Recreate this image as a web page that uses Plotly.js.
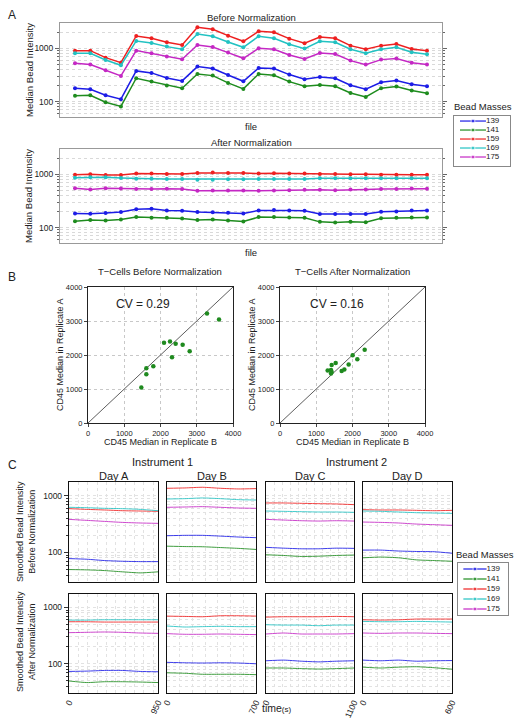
<!DOCTYPE html>
<html><head><meta charset="utf-8">
<script src="https://cdn.plot.ly/plotly-3.0.1.min.js"></script>
<style>html,body{margin:0;padding:0;background:#fff}#chart{width:522px;height:724px}</style>
</head><body><div id="chart"></div>
<script>
// ---------- data ----------
const beadMasses = ['139','141','159','169','175'];
const beadColors = ['#1c1ce6','#1e8c1e','#ee2020','#22c2c2','#c428c4'];
const files = [1,2,3,4,5,6,7,8,9,10,11,12,13,14,15,16,17,18,19,20,21,22,23,24];

// Panel A: before normalization
const before139 = [178,170,131,111,376,345,278,244,453,416,316,240,428,416,321,262,290,274,202,170,230,248,211,194];
const before141 = [128,131,97,81,274,237,200,178,330,307,224,173,330,312,237,194,205,194,145,122,178,191,161,143];
const before159 = [904,904,668,538,1703,1540,1296,1155,2477,2272,1728,1353,2085,1995,1518,1241,1631,1540,1122,958,1122,1206,972,904];
const before169 = [806,806,604,480,1373,1259,1075,958,1857,1679,1315,1044,1679,1540,1189,986,1353,1296,958,806,958,1044,841,772];
const before175 = [523,494,387,303,904,806,698,622,1155,1059,830,649,1000,958,750,631,818,783,587,494,613,640,538,494];
// Panel A: after normalization
const after139 = [184,182,187,195,220,226,210,207,195,193,190,184,210,213,210,207,179,179,179,179,198,201,210,210];
const after141 = [132,138,136,142,157,153,153,148,138,142,136,130,157,157,155,153,128,124,128,126,150,153,155,155];
const after159 = [985,1000,971,971,1030,1030,1015,1015,1060,1075,1060,1060,1030,1045,1030,1030,1015,1015,1000,1000,985,985,985,985];
const after169 = [865,877,877,852,827,827,815,815,792,792,804,804,815,815,815,815,839,839,839,839,839,839,839,839];
const after175 = [550,519,550,542,527,527,535,527,490,497,497,497,490,497,504,512,512,504,519,519,527,527,542,535];

// Panel B: CD45 medians
const repBBefore = [1471,1609,1609,1802,2097,2262,2418,2317,2611,2805,3283,3614];
const repABefore = [1044,1434,1610,1668,2361,2400,2332,1932,2302,2107,3219,3044];
const repBAfter  = [1315,1425,1407,1407,1536,1701,1775,1894,2004,2133,2336,1425];
const repAAfter  = [1541,1707,1561,1454,1766,1532,1571,1717,1990,1873,2156,1502];
const cvBefore = 'CV = 0.29';
const cvAfter = 'CV = 0.16';
const identityLine = [0, 4000];
const replicateTicks = [0,1000,2000,3000,4000];

// Panel C: smoothed bead intensities over time (rows ordered as beadMasses)
const dayNames = ['Day A','Day B','Day C','Day D'];
const timeA = [0,190,380,570,760,950];
const timeB = [0,140,280,420,560,700];
const timeC = [0,220,440,660,880,1100];
const timeD = [0,120,240,360,480,600];
const dayABefore = [[78,76,72,70,69,69],[50,49.4,48,45.6,43.7,45.6],[590,573,559,543,536,530],[623,614,598,590,573,543],[382,367,352,338,330,325]];
const dayBBefore = [[197,200,200,194,187,182],[129,127,126,122,118,113],[1347,1366,1403,1347,1311,1329],[873,885,910,885,850,838],[623,631,640,623,606,598]];
const dayCBefore = [[123,119,116,116,119,118],[91,88.5,85,86,88.5,90],[743,743,732,722,713,694],[536,529,522,515,515,508],[382,372,362,357,362,357]];
const dayDBefore = [[110,110,106,104,103,97],[80.5,83,80.5,74,72,70],[566,559,559,551,543,551],[536,529,515,501,494,487],[343,338,330,316,308,300]];
const dayAAfter = [[73,74,76,76,73,72],[49.4,46.3,47.9,47.9,47.3,46.3],[558,558,551,551,551,551],[597,597,606,606,606,606],[357,362,367,362,352,347]];
const dayBAfter = [[106,104,103,104,103,100],[69,67.7,65,65,65,64],[703,694,685,713,713,703],[469,450,457,463,457,457],[343,334,334,338,334,330]];
const dayCAfter = [[113,116,111,108,111,113],[84,84,82,80.5,82,84],[675,685,685,685,694,685],[494,487,487,475,487,487],[338,352,338,338,338,343]];
const dayDAfter = [[116,113,116,111,113,114],[87,84,87,88.5,85,80],[605,598,605,623,623,623],[566,559,559,566,559,551],[352,347,352,352,347,343]];

const logTicks = [100,1000];
const logMinor = [20,30,40,50,60,70,80,90,200,300,400,500,600,700,800,900,2000,3000,4000,5000];
const legendSample = [0,1,2];

// ---------- layout helpers ----------
const W = 522, H = 724;
const FONT = 'Liberation Sans, Arial, Helvetica, sans-serif';
const dx = (a,b) => [a/W, b/W];
const dy = (t,b) => [1 - b/H, 1 - t/H];
const GRID = '#d9d9d9';
const CGRID = '#e2e2e2';

const traces = [];
const layout = {
  width: W, height: H,
  margin: {l:0,r:0,t:0,b:0},
  paper_bgcolor: '#fff', plot_bgcolor: '#fff',
  font: {family: FONT, size: 9, color: '#222'},
  showlegend: false,
  annotations: [],
};
const ann = (text, px, py, size, extra) => layout.annotations.push(Object.assign({
  text, x: px/W, y: 1 - py/H, xref: 'paper', yref: 'paper',
  xanchor: 'center', yanchor: 'middle', showarrow: false,
  font: {family: FONT, size, color: '#222'}
}, extra || {}));

// ---------- Panel A ----------
const beforeSets = [before139, before141, before159, before169, before175];
const afterSets = [after139, after141, after159, after169, after175];
function panelALog(dom, anchor) {
  return {
    domain: dom, anchor, type: 'log', range: [1.71, 3.475],
    tickvals: logTicks, ticktext: ['100','1000'], ticks: 'outside', ticklen: 4, tickcolor: '#666',
    tickfont: {size: 8.5}, showline: true, linecolor: '#999', linewidth: 1, mirror: 'ticks',
    showgrid: true, gridcolor: GRID, griddash: 'dot', gridwidth: 1, zeroline: false,
    minor: {tickmode: 'array', tickvals: logMinor, ticks: 'outside', ticklen: 2, tickcolor: '#666',
            showgrid: true, gridcolor: GRID, griddash: 'dot', gridwidth: 1}
  };
}
function panelAX(dom, anchor) {
  return {domain: dom, anchor, range: [0.02, 24.98], showticklabels: false, ticks: '',
          showgrid: false, zeroline: false, showline: true, mirror: true, linecolor: '#999', linewidth: 1};
}
layout.xaxis = panelAX(dx(60,442), 'y');
layout.yaxis = panelALog(dy(23,117), 'x');
layout.xaxis2 = panelAX(dx(60,442), 'y2');
layout.yaxis2 = panelALog(dy(149,243), 'x2');
beadMasses.forEach((m,i) => {
  traces.push({x: files, y: beforeSets[i], xaxis: 'x', yaxis: 'y', type: 'scatter', mode: 'lines+markers',
    line: {color: beadColors[i], width: 1.5}, marker: {color: beadColors[i], size: 4}, name: m});
  traces.push({x: files, y: afterSets[i], xaxis: 'x2', yaxis: 'y2', type: 'scatter', mode: 'lines+markers',
    line: {color: beadColors[i], width: 1.5}, marker: {color: beadColors[i], size: 4}, name: m});
});
ann('A', 12, 15, 12);
ann('Before Normalization', 251, 17, 9.5);
ann('After Normalization', 251, 143, 9.5);
ann('file', 251, 126, 9.5);
ann('file', 251, 253, 9.5);
ann('Median Bead Intensity', 29, 70, 9.5, {textangle: -90});
ann('Median Bead Intensity', 29, 196, 9.5, {textangle: -90});

// ---------- Legends (A and C) ----------
function legendAxes(xn, yn, xdom, ydom, yRange) {
  layout['xaxis'+xn] = {domain: xdom, anchor: 'y'+yn, range: [-0.46, 3.85], showticklabels: false, ticks: '',
    showgrid: false, zeroline: false, showline: true, mirror: true, linecolor: '#888', linewidth: 1};
  layout['yaxis'+yn] = {domain: ydom, anchor: 'x'+xn, range: yRange, showticklabels: false, ticks: '',
    showgrid: false, zeroline: false, showline: true, mirror: true, linecolor: '#888', linewidth: 1};
  beadMasses.forEach((m,i) => {
    traces.push({x: legendSample, y: legendSample.map(() => i), xaxis: 'x'+xn, yaxis: 'y'+yn,
      type: 'scatter', mode: 'lines+markers', line: {color: beadColors[i], width: 1.2},
      marker: {color: beadColors[i], size: [0,4,0]}, hoverinfo: 'skip'});
    traces.push({x: [legendSample[2]], y: [i], xaxis: 'x'+xn, yaxis: 'y'+yn, type: 'scatter', mode: 'text',
      text: [m], textposition: 'middle right', textfont: {size: 8, family: FONT, color: '#222'}, hoverinfo: 'skip'});
  });
}
legendAxes(3, 3, dx(454,510), dy(116,166), [5.0, -0.56]);
ann('Bead Masses', 483, 106, 9.5);

// ---------- Panel B ----------
function bAxis(dom, anchor) {
  return {domain: dom, anchor, range: [0, 4000], tickvals: replicateTicks, ticks: 'outside', ticklen: 3,
    tickcolor: '#444', tickfont: {size: 7.5}, showgrid: true, gridcolor: '#c8c8c8', griddash: 'dot',
    zeroline: false, showline: true, mirror: true, linecolor: '#222', linewidth: 1};
}
layout.xaxis4 = bAxis(dx(88,233), 'y4');
layout.yaxis4 = bAxis(dy(287,423), 'x4');
layout.xaxis5 = bAxis(dx(280,425), 'y5');
layout.yaxis5 = bAxis(dy(287,423), 'x5');
[[4, repBBefore, repABefore], [5, repBAfter, repAAfter]].forEach(([n, xs, ys]) => {
  traces.push({x: identityLine, y: identityLine, xaxis: 'x'+n, yaxis: 'y'+n, type: 'scatter', mode: 'lines',
    line: {color: '#333', width: 0.8}});
  traces.push({x: xs, y: ys, xaxis: 'x'+n, yaxis: 'y'+n, type: 'scatter', mode: 'markers',
    marker: {color: '#1f8a1f', size: 4.5}});
});
layout.annotations.push({text: cvBefore, x: 720, y: 3500, xref: 'x4', yref: 'y4', xanchor: 'left', yanchor: 'middle',
  showarrow: false, font: {family: FONT, size: 12, color: '#222'}});
layout.annotations.push({text: cvAfter, x: 760, y: 3500, xref: 'x5', yref: 'y5', xanchor: 'left', yanchor: 'middle',
  showarrow: false, font: {family: FONT, size: 12, color: '#222'}});
ann('B', 12, 277, 12);
ann('T\u2212Cells Before Normalization', 160, 272, 9.5);
ann('T\u2212Cells After Normalization', 352, 272, 9.5);
ann('CD45 Median in Replicate B', 160, 442, 9);
ann('CD45 Median in Replicate B', 352, 442, 9);
ann('CD45 Median in Replicate A', 60, 355, 9, {textangle: -90});
ann('CD45 Median in Replicate A', 252, 355, 9, {textangle: -90});

// ---------- Panel C ----------
const cCols = [[69,158],[167,256],[266,354],[363,452]];
const cRows = [[482,582],[594,693]];
const times = [timeA, timeB, timeC, timeD];
const beforeDays = [dayABefore, dayBBefore, dayCBefore, dayDBefore];
const afterDays = [dayAAfter, dayBAfter, dayCAfter, dayDAfter];
let axN = 6;
cRows.forEach((row, r) => {
  cCols.forEach((col, c) => {
    const n = axN++;
    const t = times[c];
    const tEnd = t[t.length-1];
    layout['xaxis'+n] = {domain: dx(col[0], col[1]), anchor: 'y'+n, range: [0, tEnd],
      tickvals: [0, tEnd], showticklabels: r === 1, ticks: '', tickangle: -65, tickfont: {size: 8.5},
      showgrid: false, zeroline: false, showline: true, mirror: true, linecolor: '#111', linewidth: 1.2,
      minor: {dtick: 100, showgrid: true, gridcolor: CGRID, griddash: 'dot', ticks: ''}};
    layout['yaxis'+n] = {domain: dy(row[0], row[1]), anchor: 'x'+n, type: 'log', range: [1.48, 3.24],
      tickvals: logTicks, ticktext: ['100','1000'], showticklabels: c === 0, ticks: c === 0 ? 'outside' : '',
      ticklen: 4, tickcolor: '#333', tickfont: {size: 8.5},
      showgrid: true, gridcolor: CGRID, griddash: 'dot', zeroline: false,
      showline: true, mirror: true, linecolor: '#111', linewidth: 1.2,
      minor: {tickmode: 'array', tickvals: logMinor, ticks: c === 0 ? 'outside' : '', ticklen: 2, tickcolor: '#333',
              showgrid: true, gridcolor: CGRID, griddash: 'dot'}};
    const sets = (r === 0 ? beforeDays : afterDays)[c];
    beadMasses.forEach((m, i) => {
      traces.push({x: t, y: sets[i], xaxis: 'x'+n, yaxis: 'y'+n, type: 'scatter', mode: 'lines',
        line: {color: beadColors[i], width: 1, shape: 'spline', smoothing: 0.6}, opacity: 0.85});
    });
  });
});
legendAxes(14, 14, dx(458,508), dy(563,615), [4.6, -0.6]);
ann('Bead Masses', 485, 554, 9.5);
ann('C', 12, 465, 12);
ann('Instrument 1', 162, 462, 11);
ann('Instrument 2', 356, 462, 11);
dayNames.forEach((d, c) => ann(d, (cCols[c][0] + cCols[c][1]) / 2, 476, 11));
ann('Smoothed Bead Intensity<br>Before Normalization', 26, 532, 9, {textangle: -90});
ann('Smoothed Bead Intensity<br>After Normalization', 26, 642, 9, {textangle: -90});
ann('time<span style="font-size:8px">(s)</span>', 277, 708, 10.5);

Plotly.newPlot('chart', traces, layout, {staticPlot: true, displayModeBar: false});
</script>
</body></html>
